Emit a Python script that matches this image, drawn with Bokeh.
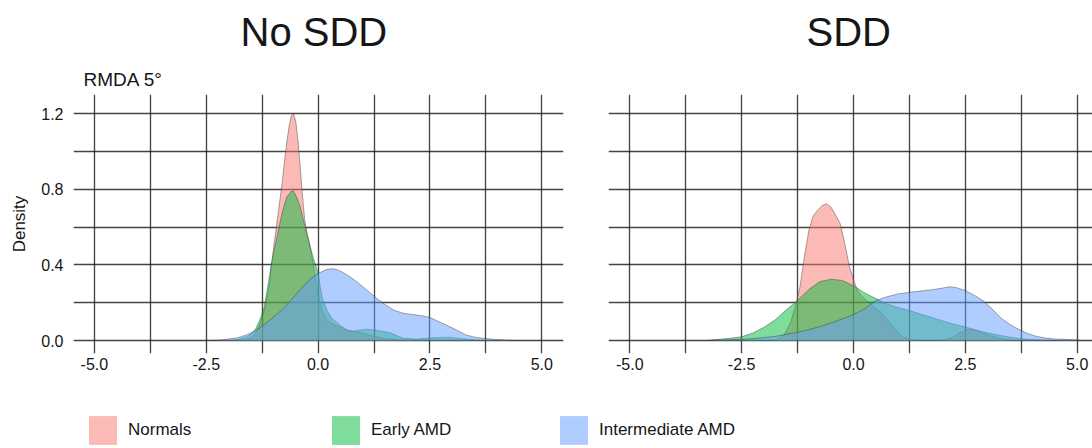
from bokeh.plotting import figure
from bokeh.models import Title, Legend, LegendItem, FixedTicker, NumeralTickFormatter
from bokeh.layouts import column, row
from bokeh.embed import file_html
from bokeh.resources import INLINE

# ---------------- data ----------------
panel_titles = ["No SDD", "SDD"]
subtitle = "RMDA 5°"
y_label = "Density"
groups = ["Normals", "Early AMD", "Intermediate AMD"]
colors = ["#F8766D", "#00BA38", "#619CFF"]

x_ticks = [-5.0, -2.5, 0.0, 2.5, 5.0]
x_tick_labels = ["-5.0", "-2.5", "0.0", "2.5", "5.0"]
y_ticks = [0.0, 0.4, 0.8, 1.2]
y_tick_labels = ["0.0", "0.4", "0.8", "1.2"]
x_grid = [-5.0, -3.75, -2.5, -1.25, 0.0, 1.25, 2.5, 3.75, 5.0]
y_grid = [0.0, 0.2, 0.4, 0.6, 0.8, 1.0, 1.2]

# No SDD panel
nosdd_normals_x = [-1.8, -1.6, -1.5, -1.4, -1.3, -1.2, -1.1, -1.0, -0.95, -0.9, -0.85, -0.8, -0.75, -0.7, -0.65,
                   -0.6, -0.55, -0.5, -0.45, -0.4, -0.35, -0.3, -0.25, -0.2, -0.15, -0.1, -0.05, 0.0, 0.1, 0.2,
                   0.3, 0.5, 0.7, 0.9, 1.0, 1.2, 1.5, 1.8, 2.2]
nosdd_normals_y = [0.0, 0.005, 0.015, 0.04, 0.09, 0.16, 0.28, 0.48, 0.57, 0.66, 0.75, 0.84, 0.95, 1.05, 1.13,
                   1.19, 1.2, 1.16, 1.06, 0.92, 0.77, 0.64, 0.57, 0.52, 0.46, 0.39, 0.31, 0.24, 0.15, 0.11,
                   0.09, 0.07, 0.05, 0.045, 0.04, 0.025, 0.01, 0.003, 0.0]

nosdd_early_x = [-2.0, -1.8, -1.6, -1.5, -1.4, -1.3, -1.2, -1.1, -1.05, -1.0, -0.9, -0.8, -0.7, -0.6, -0.55,
                 -0.5, -0.4, -0.3, -0.2, -0.1, 0.0, 0.05, 0.1, 0.2, 0.3, 0.5, 0.65, 0.8, 0.95, 1.1,
                 1.3, 1.6, 1.9, 2.2, 2.6, 2.9, 3.2, 3.6, 4.0]
nosdd_early_y = [0.0, 0.005, 0.02, 0.035, 0.06, 0.11, 0.18, 0.32, 0.4, 0.46, 0.57, 0.68, 0.76, 0.79, 0.79,
                 0.77, 0.71, 0.61, 0.52, 0.43, 0.36, 0.28, 0.22, 0.16, 0.12, 0.08, 0.055, 0.05, 0.056, 0.06,
                 0.055, 0.042, 0.012, 0.008, 0.015, 0.018, 0.01, 0.002, 0.0]

nosdd_inter_x = [-2.4, -2.2, -2.0, -1.8, -1.6, -1.4, -1.2, -1.0, -0.8, -0.6, -0.4, -0.2, 0.0, 0.2, 0.35,
                 0.5, 0.7, 0.9, 1.1, 1.3, 1.5, 1.7, 1.9, 2.1, 2.3, 2.5, 2.7, 2.9, 3.1, 3.3,
                 3.5, 3.7, 4.0, 4.2, 4.4]
nosdd_inter_y = [0.0, 0.003, 0.008, 0.015, 0.03, 0.053, 0.085, 0.123, 0.165, 0.215, 0.27, 0.32, 0.355, 0.377, 0.38,
                 0.368, 0.34, 0.305, 0.265, 0.225, 0.19, 0.16, 0.145, 0.138, 0.132, 0.122, 0.1, 0.078, 0.055, 0.03,
                 0.018, 0.012, 0.005, 0.003, 0.0]

# SDD panel
sdd_normals_x = [-1.8, -1.7, -1.6, -1.5, -1.4, -1.3, -1.2, -1.1, -1.0, -0.9, -0.8, -0.7, -0.6, -0.5, -0.4,
                 -0.3, -0.2, -0.1, 0.0, 0.1, 0.2, 0.4, 0.6, 0.8, 0.9, 1.0, 1.1, 1.3, 1.6, 2.0,
                 2.2, 2.4, 2.6, 2.8, 3.0, 3.3, 3.6]
sdd_normals_y = [0.0, 0.006, 0.02, 0.05, 0.1, 0.18, 0.28, 0.44, 0.58, 0.66, 0.69, 0.715, 0.724, 0.705, 0.665,
                 0.62, 0.52, 0.4, 0.32, 0.26, 0.23, 0.19, 0.15, 0.1, 0.07, 0.04, 0.02, 0.003, 0.0, 0.002,
                 0.015, 0.045, 0.06, 0.05, 0.03, 0.01, 0.0]

sdd_early_x = [-3.3, -3.0, -2.75, -2.5, -2.25, -2.0, -1.75, -1.5, -1.25, -1.0, -0.75, -0.5, -0.25, 0.0, 0.25,
               0.5, 0.75, 1.0, 1.25, 1.5, 1.75, 2.0, 2.25, 2.5, 2.75, 3.0, 3.25, 3.5, 3.75, 4.0, 4.5]
sdd_early_y = [0.0, 0.007, 0.012, 0.02, 0.04, 0.07, 0.11, 0.163, 0.212, 0.27, 0.312, 0.325, 0.318, 0.29, 0.252,
               0.222, 0.193, 0.175, 0.159, 0.14, 0.122, 0.104, 0.086, 0.072, 0.055, 0.04, 0.028, 0.018, 0.01, 0.005, 0.0]

sdd_inter_x = [-3.2, -2.75, -2.25, -1.75, -1.25, -1.0, -0.75, -0.5, -0.25, 0.0, 0.25, 0.5, 0.75, 1.0, 1.25,
               1.5, 1.75, 2.0, 2.15, 2.3, 2.5, 2.7, 2.9, 3.1, 3.3, 3.5, 3.7, 3.9, 4.1, 4.3,
               4.5, 4.75, 5.0, 5.1]
sdd_inter_y = [0.0, 0.004, 0.01, 0.022, 0.044, 0.058, 0.074, 0.093, 0.115, 0.137, 0.168, 0.212, 0.232, 0.247, 0.255,
               0.262, 0.269, 0.278, 0.285, 0.28, 0.265, 0.24, 0.21, 0.167, 0.118, 0.085, 0.058, 0.036, 0.022, 0.013,
               0.008, 0.006, 0.003, 0.0]

# ---------------- styling ----------------
FONT = "Liberation Sans"
TXT = "#161616"
GRID_C = "#1c1c1c"
FILL_ALPHA = 0.5
Y_RANGE = (-0.0685, 1.302)


def make_panel(width, border_left, border_right, x_range, show_y):
    p = figure(width=width, height=388, x_range=x_range, y_range=Y_RANGE,
               output_backend="svg", toolbar_location=None,
               y_axis_location="left" if show_y else None,
               min_border_left=border_left, min_border_right=border_right,
               min_border_top=93, min_border_bottom=35,
               background_fill_color="white", border_fill_color="white")
    p.outline_line_color = None
    for g, ticks in ((p.xgrid, x_grid), (p.ygrid, y_grid)):
        g.ticker = FixedTicker(ticks=ticks)
        g.grid_line_color = GRID_C
        g.grid_line_alpha = 0.82
        g.grid_line_width = 1.35
    ax = p.xaxis[0]
    ax.ticker = FixedTicker(ticks=x_ticks)
    ax.formatter = NumeralTickFormatter(format="0.0")
    ax.major_label_overrides = {t: l for t, l in zip(x_ticks, x_tick_labels)}
    ax.axis_line_color = None
    ax.major_tick_line_color = None
    ax.minor_tick_line_color = None
    ax.major_tick_out = 0
    ax.major_tick_in = 0
    ax.minor_tick_out = 0
    ax.major_label_standoff = 4
    ax.major_label_text_font = FONT
    ax.major_label_text_font_size = "16px"
    ax.major_label_text_color = TXT
    if show_y:
        ay = p.yaxis[0]
        ay.ticker = FixedTicker(ticks=y_ticks)
        ay.formatter = NumeralTickFormatter(format="0.0")
        ay.major_label_overrides = {t: l for t, l in zip(y_ticks, y_tick_labels)}
        ay.axis_line_color = None
        ay.major_tick_line_color = None
        ay.minor_tick_line_color = None
        ay.major_tick_out = 0
        ay.major_tick_in = 0
        ay.minor_tick_out = 0
        ay.major_label_standoff = 10
        ay.major_label_text_font = FONT
        ay.major_label_text_font_size = "16px"
        ay.major_label_text_color = TXT
        ay.axis_label = y_label
        ay.axis_label_text_font = FONT
        ay.axis_label_text_font_size = "17px"
        ay.axis_label_text_font_style = "normal"
        ay.axis_label_text_color = TXT
        ay.axis_label_standoff = 9
    return p


def draw_curves(p, curves):
    for (xs, ys), c in zip(curves, colors):
        p.varea(x=xs, y1=0, y2=ys, fill_color=c, fill_alpha=FILL_ALPHA)
        p.line(x=xs, y=ys, line_color="#3a3a3a", line_alpha=0.55, line_width=0.8)


p1 = make_panel(585, 73, 22, (-5.467, 5.485), True)
p2 = make_panel(507, 23, 0, (-5.476, 5.342), False)

draw_curves(p1, [(nosdd_normals_x, nosdd_normals_y), (nosdd_early_x, nosdd_early_y),
                 (nosdd_inter_x, nosdd_inter_y)])
draw_curves(p2, [(sdd_normals_x, sdd_normals_y), (sdd_early_x, sdd_early_y),
                 (sdd_inter_x, sdd_inter_y)])

# titles: closest-to-frame first
p1.add_layout(Title(text=subtitle, align="left", offset=10, standoff=10, text_font=FONT,
                    text_font_size="19px", text_font_style="normal", text_color=TXT), "above")
p1.add_layout(Title(text=panel_titles[0], align="left", offset=167, standoff=15, text_font=FONT,
                    text_font_size="40px", text_font_style="normal", text_color=TXT), "above")
p2.add_layout(Title(text=" ", align="left", standoff=10, text_font=FONT,
                    text_font_size="19px", text_font_style="normal", text_color=TXT), "above")
p2.add_layout(Title(text=panel_titles[1], align="left", offset=198, standoff=15, text_font=FONT,
                    text_font_size="40px", text_font_style="normal", text_color=TXT), "above")

# ---------------- legend row ----------------
p3 = figure(width=1092, height=60, output_backend="svg", toolbar_location=None,
            x_axis_location=None, y_axis_location=None,
            min_border_left=0, min_border_right=0, min_border_top=0, min_border_bottom=0,
            x_range=(-5.5, 5.5), y_range=(2.0, 3.0))
p3.outline_line_color = None
p3.grid.visible = False
legend_x = [85, 328, 556]
legend_src = [(nosdd_normals_x, nosdd_normals_y), (nosdd_early_x, nosdd_early_y),
              (nosdd_inter_x, nosdd_inter_y)]
for name, c, lx, (xs, ys) in zip(groups, colors, legend_x, legend_src):
    # the curves sit below this strip's y-range, so only their legend swatches show
    r = p3.varea(x=xs, y1=0, y2=ys, fill_color=c, fill_alpha=FILL_ALPHA)
    leg = Legend(items=[LegendItem(label=name, renderers=[r])], location=(lx, 0),
                 orientation="horizontal", glyph_width=35, glyph_height=36, label_standoff=8,
                 padding=0, margin=0, border_line_color=None, background_fill_alpha=0,
                 label_text_font=FONT, label_text_font_size="17px", label_text_color=TXT)
    p3.add_layout(leg)

layout = column(row(p1, p2), p3)
open("out.html", "w").write(file_html(layout, INLINE))
